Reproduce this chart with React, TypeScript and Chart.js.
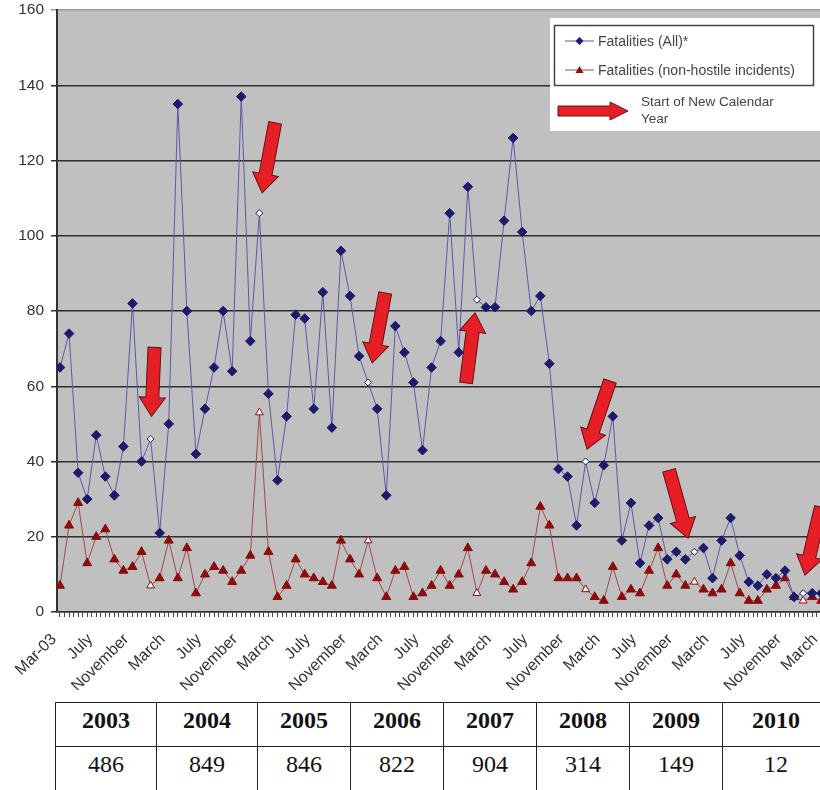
import React, { useEffect, useRef } from "react";
import { Chart, registerables } from "chart.js";

Chart.register(...registerables);

// Tick labels shown every 4 months (Mar-03 ... March 2010)
const tickLabels = [
  "Mar-03", "July", "November",
  "March", "July", "November",
  "March", "July", "November",
  "March", "July", "November",
  "March", "July", "November",
  "March", "July", "November",
  "March", "July", "November",
  "March",
];

// Monthly fatalities, March 2003 onwards
const fatalitiesAll = [
  65, 74, 37, 30, 47, 36, 31, 44, 82, 40,
  46, 21, 50, 135, 80, 42, 54, 65, 80, 64,
  137, 72, 106, 58, 35, 52, 79, 78, 54, 85,
  49, 96, 84, 68, 61, 54, 31, 76, 69, 61,
  43, 65, 72, 106, 69, 113, 83, 81, 81, 104,
  126, 101, 80, 84, 66, 38, 36, 23, 40, 29,
  39, 52, 19, 29, 13, 23, 25, 14, 16, 14,
  16, 17, 9, 19, 25, 15, 8, 7, 10, 9,
  11, 4, 5, 5, 5,
];

const fatalitiesNonHostile = [
  7, 23, 29, 13, 20, 22, 14, 11, 12, 16,
  7, 9, 19, 9, 17, 5, 10, 12, 11, 8,
  11, 15, 53, 16, 4, 7, 14, 10, 9, 8,
  7, 19, 14, 10, 19, 9, 4, 11, 12, 4,
  5, 7, 11, 7, 10, 17, 5, 11, 10, 8,
  6, 8, 13, 28, 23, 9, 9, 9, 6, 4,
  3, 12, 4, 6, 5, 11, 17, 7, 10, 7,
  8, 6, 5, 6, 13, 5, 3, 3, 6, 7,
  9, 4, 3, 4, 3,
];

// Index of each January (start of new calendar year)
const newYearIndex = [10, 22, 34, 46, 58, 70, 82];

// Arrow annotations: tip at (index, value), tail offset in px from tip
const arrowIndex = [10.1, 22.3, 34.45, 45.8, 58.15, 69.3, 82.2];
const arrowValue = [52, 111.4, 66.2, 79.5, 43.3, 19.6, 9.8];
const arrowTailDx = [3, 13, 13, -9, 23, -19, 16];
const arrowTailDy = [-69, -70, -70, 70, -68, -68, -68];

// Yearly totals table
const years = ["2003", "2004", "2005", "2006", "2007", "2008", "2009", "2010"];
const yearTotals = [486, 849, 846, 822, 904, 314, 149, 12];

const NAVY = "#1b1b6b";
const NAVY_LINE = "#5a5aa8";
const DARKRED = "#8a0c0c";
const RED_LINE = "#a44848";
const SANS = '"Liberation Sans", Arial, sans-serif';

function drawArrow(ctx: CanvasRenderingContext2D, tx: number, ty: number, sx: number, sy: number, sw: number, hw: number, hl: number) {
  const dx = tx - sx;
  const dy = ty - sy;
  const L = Math.sqrt(dx * dx + dy * dy);
  const a = Math.atan2(dy, dx);
  ctx.save();
  ctx.translate(sx, sy);
  ctx.rotate(a);
  ctx.beginPath();
  ctx.moveTo(0, -sw);
  ctx.lineTo(L - hl, -sw);
  ctx.lineTo(L - hl, -hw);
  ctx.lineTo(L, 0);
  ctx.lineTo(L - hl, hw);
  ctx.lineTo(L - hl, sw);
  ctx.lineTo(0, sw);
  ctx.closePath();
  ctx.fillStyle = "#e61e26";
  ctx.fill();
  ctx.lineWidth = 1;
  ctx.strokeStyle = "#6a1010";
  ctx.stroke();
  ctx.restore();
}

const bgPlugin = {
  id: "plotBg",
  beforeDraw(chart: any) {
    const { ctx, chartArea } = chart;
    const { left, top, right, bottom } = chartArea;
    ctx.save();
    ctx.fillStyle = "#c0c0c0";
    ctx.fillRect(left, top, right - left, bottom - top);
    ctx.restore();
  },
};

const annotationPlugin = {
  id: "yearArrows",
  afterDatasetsDraw(chart: any) {
    const { ctx } = chart;
    const xs = chart.scales.x;
    const ys = chart.scales.y;
    for (let i = 0; i < arrowIndex.length; i++) {
      const tx = xs.getPixelForValue(arrowIndex[i]);
      const ty = ys.getPixelForValue(arrowValue[i]);
      drawArrow(ctx, tx, ty, tx + arrowTailDx[i], ty + arrowTailDy[i], 6.5, 13, 19);
    }
  },
  afterDraw(chart: any) {
    const { ctx } = chart;
    ctx.save();
    // legend panel
    ctx.fillStyle = "#ffffff";
    ctx.fillRect(550, 18, 275, 113);
    ctx.strokeStyle = "#444";
    ctx.lineWidth = 1.5;
    ctx.strokeRect(554.5, 25.5, 259, 60);

    ctx.font = `14px ${SANS}`;
    ctx.textBaseline = "middle";
    ctx.textAlign = "left";

    // entry 1
    ctx.strokeStyle = NAVY_LINE;
    ctx.lineWidth = 1;
    ctx.beginPath();
    ctx.moveTo(565, 41);
    ctx.lineTo(594, 41);
    ctx.stroke();
    ctx.fillStyle = NAVY;
    ctx.beginPath();
    ctx.moveTo(579.5, 37);
    ctx.lineTo(583.5, 41);
    ctx.lineTo(579.5, 45);
    ctx.lineTo(575.5, 41);
    ctx.closePath();
    ctx.fill();
    ctx.fillStyle = "#444";
    ctx.fillText("Fatalities (All)*", 598, 42);

    // entry 2
    ctx.strokeStyle = RED_LINE;
    ctx.beginPath();
    ctx.moveTo(565, 70);
    ctx.lineTo(594, 70);
    ctx.stroke();
    ctx.fillStyle = DARKRED;
    ctx.beginPath();
    ctx.moveTo(579.5, 66);
    ctx.lineTo(583.5, 73);
    ctx.lineTo(575.5, 73);
    ctx.closePath();
    ctx.fill();
    ctx.fillStyle = "#444";
    ctx.fillText("Fatalities (non-hostile incidents)", 598, 71);

    // arrow entry
    drawArrow(ctx, 628, 111, 558, 111, 5, 9, 18);
    ctx.font = `13.5px ${SANS}`;
    ctx.fillStyle = "#444";
    ctx.fillText("Start of New Calendar", 641, 102);
    ctx.fillText("Year", 641, 119);
    ctx.restore();
  },
};

export default function App() {
  const ref = useRef<HTMLCanvasElement>(null);

  useEffect(() => {
    const canvas = ref.current;
    if (!canvas) return;
    const isNewYear = (i: number) => newYearIndex.includes(i);
    const chart = new Chart(canvas, {
      type: "line",
      data: {
        datasets: [
          {
            label: "Fatalities (All)*",
            data: fatalitiesAll.map((v, i) => ({ x: i, y: v })),
            borderColor: NAVY_LINE,
            borderWidth: 1,
            pointStyle: "rectRot",
            pointRadius: (c: any) => (isNewYear(c.dataIndex) ? 3.5 : 4.8),
            pointBackgroundColor: (c: any) => (isNewYear(c.dataIndex) ? "#ffffff" : NAVY),
            pointBorderColor: NAVY,
            pointBorderWidth: 1,
            tension: 0,
          },
          {
            label: "Fatalities (non-hostile incidents)",
            data: fatalitiesNonHostile.map((v, i) => ({ x: i, y: v })),
            borderColor: RED_LINE,
            borderWidth: 1,
            pointStyle: "triangle",
            pointRadius: (c: any) => (isNewYear(c.dataIndex) ? 4.5 : 5.2),
            pointBackgroundColor: (c: any) => (isNewYear(c.dataIndex) ? "#ffffff" : DARKRED),
            pointBorderColor: DARKRED,
            pointBorderWidth: 1,
            tension: 0,
          },
        ],
      },
      options: {
        responsive: false,
        animation: false,
        devicePixelRatio: 1,
        layout: { padding: { left: 0, right: 4, top: 10, bottom: 0 } },
        plugins: { legend: { display: false }, tooltip: { enabled: false } },
        scales: {
          x: {
            type: "linear",
            min: -0.33,
            max: 84.5,
            afterFit: (s: any) => {
              s.height = 78;
              s.paddingLeft = 0;
              s.paddingRight = 0;
            },
            border: { display: true, color: "#333", width: 1.5 },
            grid: { drawOnChartArea: false, drawTicks: true, tickLength: 5, color: "#444" },
            ticks: {
              stepSize: 0.5,
              includeBounds: false,
              autoSkip: false,
              maxRotation: 45,
              minRotation: 45,
              padding: 13,
              labelOffset: -6,
              color: "#333",
              font: { family: SANS, size: 16 },
              callback: (value: any) => {
                const v = Number(value);
                if (Number.isInteger(v) && v % 4 === 0) return tickLabels[v / 4] ?? "";
                return "";
              },
            },
          },
          y: {
            min: 0,
            max: 160,
            afterFit: (s: any) => {
              s.width = 57;
              s.paddingTop = 0;
              s.paddingBottom = 0;
            },
            border: { display: true, color: "#333", width: 2 },
            grid: {
              color: (c: any) => (c.tick && c.tick.value === 160 ? "#9a9a9a" : "#2e2e2e"),
              lineWidth: 1.5,
              tickLength: 6,
            },
            ticks: {
              stepSize: 20,
              padding: 7,
              color: "#333",
              font: { family: SANS, size: 15.5 },
            },
          },
        },
      },
      plugins: [bgPlugin, annotationPlugin],
    } as any);
    return () => chart.destroy();
  }, []);

  const colWidths = [101, 101, 93, 93, 93, 93, 93, 107];
  const cellBase: React.CSSProperties = {
    border: "1.5px solid #222",
    textAlign: "center",
    verticalAlign: "middle",
    height: 35,
    padding: 0,
    paddingBottom: 8,
  };

  return (
    <div
      style={{
        position: "fixed",
        left: 0,
        top: 0,
        width: 820,
        height: 790,
        overflow: "hidden",
        background: "#ffffff",
      }}
    >
      <canvas
        ref={ref}
        width={832}
        height={690}
        style={{ position: "absolute", left: 0, top: 0, width: 832, height: 690 }}
      />
      <table
        style={{
          position: "absolute",
          left: 55,
          top: 702,
          borderCollapse: "collapse",
          tableLayout: "fixed",
          width: colWidths.reduce((a, b) => a + b, 0),
          fontFamily: '"Liberation Serif", "Times New Roman", serif',
          fontSize: 24,
          color: "#111",
        }}
      >
        <colgroup>
          {colWidths.map((w, i) => (
            <col key={i} style={{ width: w }} />
          ))}
        </colgroup>
        <tbody>
          <tr>
            {years.map((y) => (
              <td key={y} style={{ ...cellBase, fontWeight: "bold" }}>
                {y}
              </td>
            ))}
          </tr>
          <tr>
            {yearTotals.map((t, i) => (
              <td key={i} style={cellBase}>
                {t}
              </td>
            ))}
          </tr>
        </tbody>
      </table>
    </div>
  );
}
